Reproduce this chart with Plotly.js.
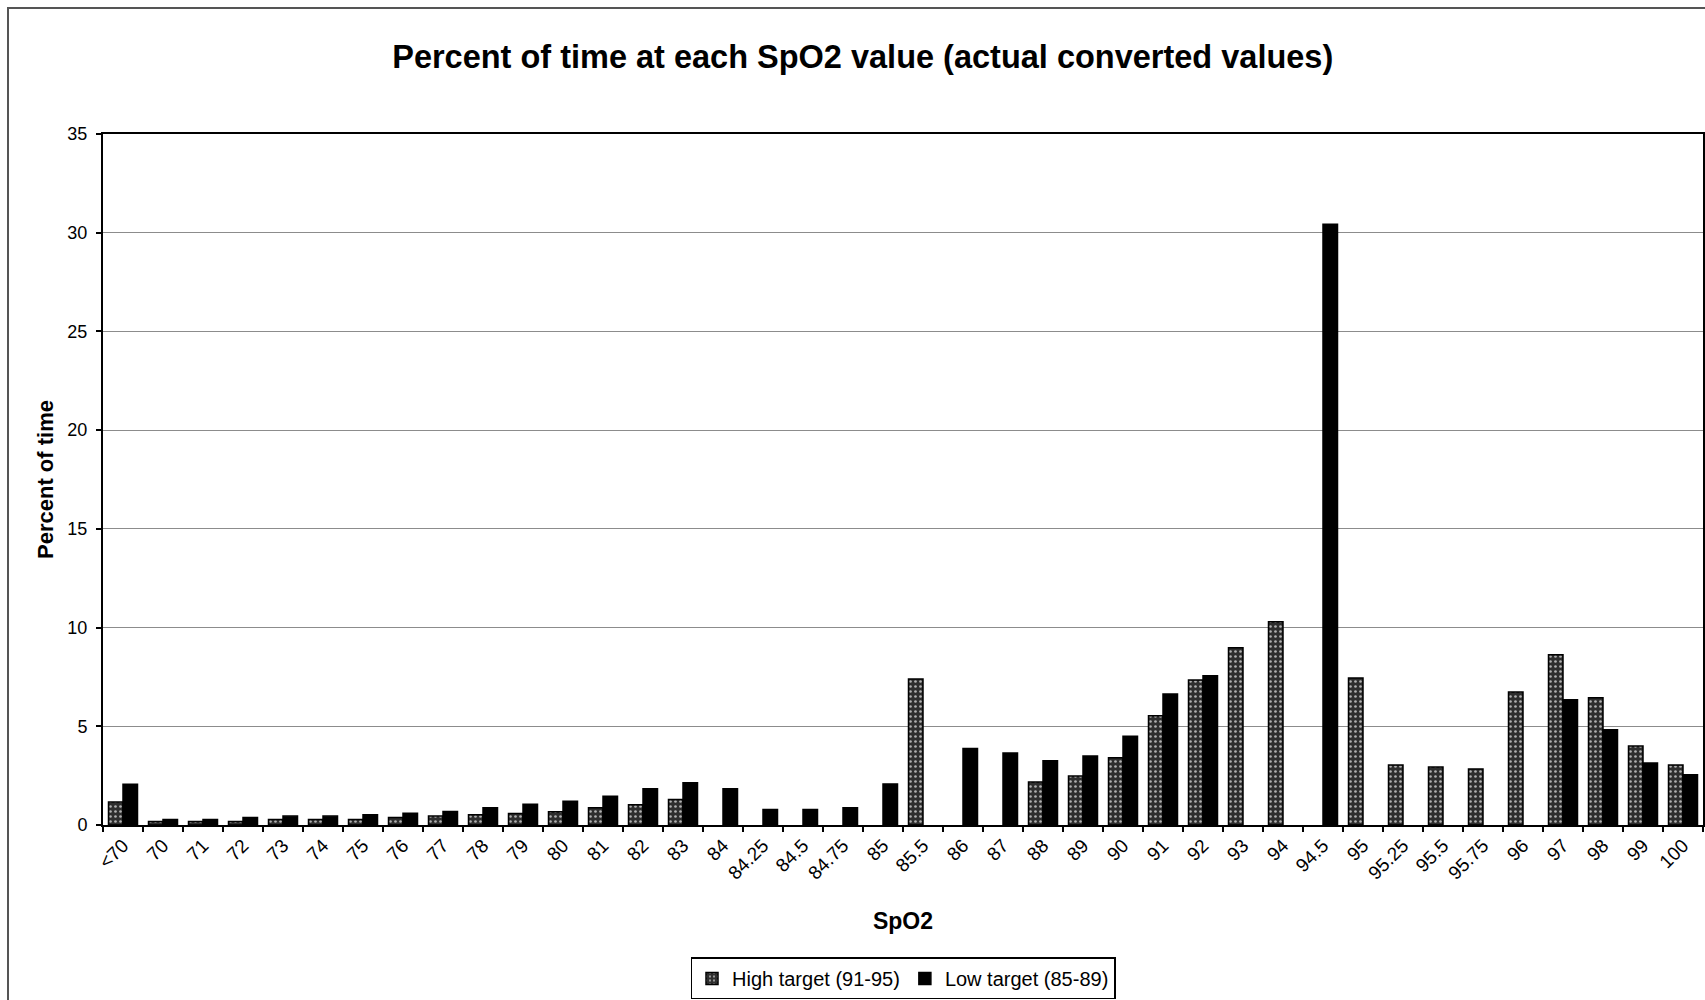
<!DOCTYPE html>
<html>
<head>
<meta charset="utf-8">
<script src="https://cdn.plot.ly/plotly-3.0.1.min.js"></script>
<style>
  html, body { margin: 0; padding: 0; background: #fff; overflow: hidden; }
  #frame { position: absolute; left: 7px; top: 7px; width: 1760px; height: 1060px; border: 2px solid #555; box-sizing: border-box; pointer-events: none; }
  #chart { position: absolute; left: 0; top: 0; width: 1705px; height: 1000px; }
</style>
</head>
<body>
<div id="chart"></div>
<div id="frame"></div>
<script>
// Categories (SpO2 values) as shown on the x axis
const categories = ['<70','70','71','72','73','74','75','76','77','78','79','80','81','82','83',
  '84','84.25','84.5','84.75','85','85.5','86','87','88','89','90','91','92','93','94',
  '94.5','95','95.25','95.5','95.75','96','97','98','99','100'];

// Percent of time, High target (91-95)
const highTarget = [1.16, 0.18, 0.18, 0.18, 0.28, 0.28, 0.28, 0.38, 0.45, 0.52, 0.58, 0.67, 0.87, 1.03, 1.29,
  null, null, null, null, null, 7.39, null, null, 2.18, 2.48, 3.4, 5.53, 7.35, 8.98, 10.3,
  null, 7.45, 3.04, 2.94, 2.84, 6.74, 8.62, 6.44, 4.0, 3.04];

// Percent of time, Low target (85-89)
const lowTarget = [2.07, 0.28, 0.28, 0.38, 0.45, 0.45, 0.52, 0.6, 0.69, 0.87, 1.05, 1.2, 1.46, 1.83, 2.14,
  1.83, 0.78, 0.78, 0.87, 2.08, null, 3.88, 3.65, 3.25, 3.5, 4.5, 6.64, 7.56, null, null,
  30.43, null, null, null, null, null, 6.34, 4.82, 3.14, 2.54];

const seriesNames = ['High target (91-95)', 'Low target (85-89)'];

const FONT = 'Arial, "Liberation Sans", Helvetica, sans-serif';

const traces = [
  {
    type: 'bar', name: seriesNames[0], x: categories, y: highTarget,
    marker: {
      color: '#2e2e2e',
      line: { color: '#000', width: 1.5 },
      pattern: { shape: '.', fillmode: 'replace', bgcolor: '#2e2e2e', fgcolor: '#b0b0b0', size: 5, solidity: 0.22 }
    },
    hoverinfo: 'x+y'
  },
  {
    type: 'bar', name: seriesNames[1], x: categories, y: lowTarget,
    marker: { color: '#000', line: { color: '#000', width: 1.5 } },
    hoverinfo: 'x+y'
  }
];

const layout = {
  width: 1705, height: 1000,
  paper_bgcolor: '#fff', plot_bgcolor: '#fff',
  margin: { l: 103, r: 2, t: 134, b: 174 },
  font: { family: FONT, color: '#000' },
  title: {
    text: '<b>Percent of time at each SpO2 value (actual converted values)</b>',
    font: { family: FONT, size: 32.5, color: '#000' },
    x: 0.506, xref: 'container', xanchor: 'center',
    y: 0.943, yref: 'container', yanchor: 'middle'
  },
  barmode: 'group',
  bargap: 0.275,
  bargroupgap: 0,
  showlegend: true,
  legend: {
    orientation: 'h', x: 0.5, xanchor: 'center', y: -0.19, yanchor: 'top',
    bordercolor: '#000', borderwidth: 1.5, bgcolor: '#fff',
    font: { family: FONT, size: 20, color: '#000' },
    itemwidth: 30, tracegroupgap: 0
  },
  xaxis: {
    type: 'category',
    tickangle: -45,
    ticks: 'outside', ticklen: 5, tickwidth: 1.5, tickcolor: '#000',
    tickson: 'boundaries',
    showline: true, linecolor: '#000', linewidth: 2, mirror: true,
    showgrid: false,
    tickfont: { family: FONT, size: 19, color: '#000' },
    title: { text: '<b>SpO2</b>', font: { family: FONT, size: 23, color: '#000' }, standoff: 30 },
    automargin: false
  },
  yaxis: {
    range: [0, 35], dtick: 5, tick0: 0,
    ticks: 'outside', ticklen: 5, tickwidth: 1.5, tickcolor: '#000',
    ticklabelstandoff: 5,
    showline: true, linecolor: '#000', linewidth: 2, mirror: true,
    showgrid: true, gridcolor: '#8c8c8c', gridwidth: 1,
    zeroline: false,
    tickfont: { family: FONT, size: 18, color: '#000' },
    title: { text: '<b>Percent of time</b>', font: { family: FONT, size: 22, color: '#000' }, standoff: 8 },
    automargin: false
  }
};

Plotly.newPlot('chart', traces, layout, { displayModeBar: false });
</script>
</body>
</html>
